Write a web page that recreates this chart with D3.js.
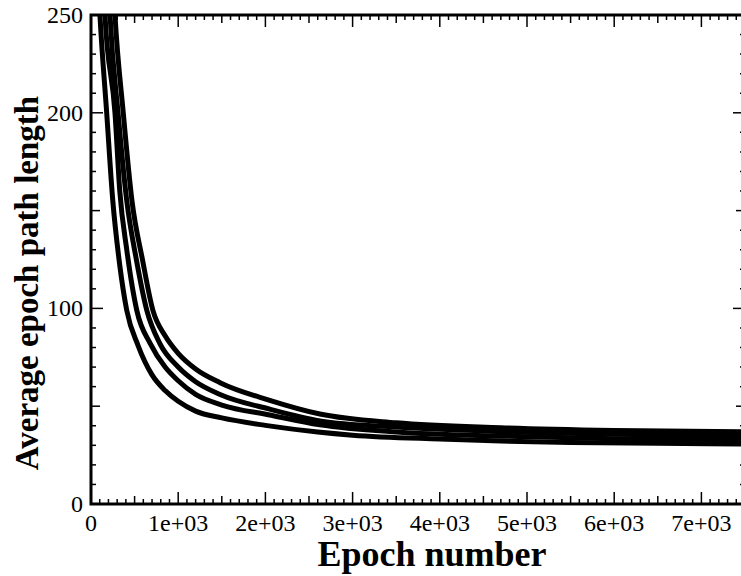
<!DOCTYPE html>
<html><head><meta charset="utf-8">
<script src="https://cdn.jsdelivr.net/npm/d3@7"></script>
<style>body{margin:0;background:#fff;}svg{display:block;}</style>
</head><body>
<script>
const epochsA = [60, 100, 180, 250, 330, 410, 540, 700, 850, 1000, 1200, 1500, 2000, 2600, 3000, 4000, 4700, 5500, 6500, 7500];
const valuesA = [290, 252, 200, 155, 122, 99, 81, 66, 58, 52.5, 47.5, 44, 40.2, 36.8, 35.2, 33.2, 32.2, 31.5, 31, 30.6];
const epochsB = [120, 160, 275, 330, 410, 525, 680, 850, 1000, 1200, 1500, 2050, 2625, 3500, 4700, 6000, 7500];
const valuesB = [290, 250, 200, 160, 130, 99, 82, 70, 63, 56, 50.6, 45.5, 40.5, 36.8, 34.7, 33.4, 32.8];
const epochsC = [180, 218, 310, 410, 520, 640, 790, 1000, 1200, 1480, 2050, 2625, 3500, 4700, 6000, 7500];
const valuesC = [290, 250, 200, 155, 125, 99, 82, 70, 62.5, 56, 48.5, 42.5, 39.3, 37, 35.6, 34.9];
const epochsD = [230, 275, 370, 470, 590, 710, 850, 1000, 1200, 1480, 2050, 2625, 3500, 4700, 6000, 7500];
const valuesD = [290, 250, 200, 155, 125, 99, 86, 77, 69, 62, 53, 46, 41.5, 39, 37.6, 36.9];
const xTickValues = [0, 1000, 2000, 3000, 4000, 5000, 6000, 7000];
const xTickLabels = ["0", "1e+03", "2e+03", "3e+03", "4e+03", "5e+03", "6e+03", "7e+03"];
const yTickValues = [0, 100, 200, 250];
const yTickLabels = ["0", "100", "200", "250"];

const W = 741, H = 576;
const L = 91, R = 745, T = 15, B = 504;
const FONT = "'Times New Roman', Times, 'Liberation Serif', 'Noto Serif', 'DejaVu Serif', serif";
const svg = d3.select("body").append("svg").attr("width", W).attr("height", H);
const x = d3.scaleLinear().domain([0, 7500]).range([L, R]);
const y = d3.scaleLinear().domain([0, 250]).range([B, T]);

svg.append("clipPath").attr("id", "clip").append("rect")
  .attr("x", L).attr("y", T).attr("width", R - L).attr("height", B - T);

const series = [[epochsA, valuesA], [epochsB, valuesB], [epochsC, valuesC], [epochsD, valuesD]];
const line = d3.line().x(d => x(d[0])).y(d => y(d[1])).curve(d3.curveMonotoneX);
const g = svg.append("g").attr("clip-path", "url(#clip)");
series.forEach(([e, v]) => {
  g.append("path").datum(e.map((ep, i) => [ep, v[i]]))
    .attr("d", line).attr("fill", "none").attr("stroke", "#000")
    .attr("stroke-width", 5).attr("stroke-linejoin", "round");
});

const minorX = d3.range(0, 7501, 100);
const minorY = d3.range(0, 251, 10);
const tk = svg.append("g").attr("stroke", "#000").attr("stroke-width", 1.5);
function xlen(v) { return v % 1000 === 0 ? 12 : (v % 500 === 0 ? 8 : 5); }
function ylen(v) { return v % 100 === 0 ? 12 : (v % 50 === 0 ? 9 : 5); }
minorX.forEach(v => {
  tk.append("line").attr("x1", x(v)).attr("x2", x(v)).attr("y1", B).attr("y2", B - xlen(v));
  tk.append("line").attr("x1", x(v)).attr("x2", x(v)).attr("y1", T).attr("y2", T + xlen(v));
});
minorY.forEach(v => {
  tk.append("line").attr("y1", y(v)).attr("y2", y(v)).attr("x1", L).attr("x2", L + ylen(v));
  tk.append("line").attr("y1", y(v)).attr("y2", y(v)).attr("x1", R).attr("x2", R - ylen(v));
});

svg.append("rect").attr("x", L).attr("y", T).attr("width", R - L).attr("height", B - T)
  .attr("fill", "none").attr("stroke", "#000").attr("stroke-width", 3);

svg.append("g").selectAll("text").data(xTickValues).join("text")
  .attr("x", d => x(d)).attr("y", 531).attr("text-anchor", "middle")
  .style("font-family", FONT).attr("font-size", 24).text((d, i) => xTickLabels[i]);
svg.append("g").selectAll("text").data(yTickValues).join("text")
  .attr("x", 83).attr("y", d => y(d) + 8).attr("text-anchor", "end")
  .style("font-family", FONT).attr("font-size", 24).text((d, i) => yTickLabels[i]);

svg.append("text").attr("x", 432).attr("y", 566).attr("text-anchor", "middle")
  .style("font-family", FONT).attr("font-weight", "bold").attr("font-size", 36).text("Epoch number");
svg.append("text").attr("transform", "translate(38,283) rotate(-90)").attr("text-anchor", "middle")
  .style("font-family", FONT).attr("font-weight", "bold").attr("font-size", 33).text("Average epoch path length");
</script>
</body></html>
